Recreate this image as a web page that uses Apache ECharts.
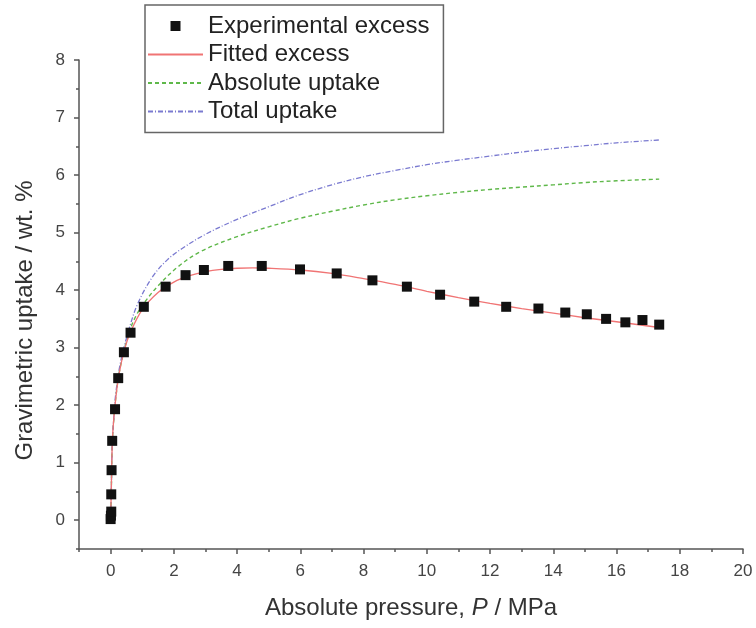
<!DOCTYPE html>
<html>
<head>
<meta charset="utf-8">
<script src="https://cdn.jsdelivr.net/npm/echarts@6/dist/echarts.min.js"></script>
<style>html,body{margin:0;padding:0;background:#fff}#c{width:756px;height:628px}</style>
</head>
<body>
<div id="c"></div>
<script>
// Experimental excess uptake
var expP = [0.00,0.01,0.02,0.02,0.03,0.05,0.14,0.24,0.42,0.63,1.05,1.74,2.37,2.95,3.72,4.78,5.99,7.15,8.28,9.37,10.42,11.50,12.51,13.53,14.38,15.06,15.67,16.28,16.82,17.35];
var expU = [0.02,0.08,0.15,0.45,0.87,1.38,1.93,2.47,2.92,3.26,3.71,4.06,4.26,4.35,4.42,4.42,4.36,4.29,4.17,4.06,3.92,3.80,3.71,3.68,3.61,3.58,3.50,3.44,3.48,3.40];
// Fitted excess
var fitP = [0,0.01,0.02,0.03,0.05,0.08,0.14,0.24,0.42,0.63,1.0,1.5,2.0,2.5,3.0,3.5,4.0,4.5,5.0,6.0,7.0,8.0,9.0,10.0,11.0,12.0,13.0,14.0,15.0,16.0,17.35];
var fitU = [0,0.25,0.5,0.8,1.3,1.62,2.0,2.45,2.93,3.27,3.66,3.96,4.14,4.25,4.32,4.36,4.38,4.385,4.38,4.35,4.29,4.2,4.1,3.98,3.87,3.77,3.68,3.6,3.52,3.45,3.35];
// Absolute uptake
var absP = [0,0.02,0.05,0.1,0.14,0.29,0.56,0.8,1.09,1.51,2.14,2.88,4,5,6,7,8,9,10,11,12,13,14,15,16,17.35];
var absU = [0,0.45,1.3,1.75,2.02,2.62,3.22,3.55,3.8,4.08,4.41,4.68,4.93,5.1,5.25,5.37,5.48,5.57,5.64,5.7,5.75,5.79,5.83,5.87,5.9,5.93];
// Total uptake
var totP = [0,0.02,0.05,0.1,0.14,0.29,0.56,0.87,1.35,1.8,2.25,3,4,5,6,7,8,9,10,11,12,13,14,15,16,17.35];
var totU = [0,0.45,1.3,1.78,2.09,2.68,3.28,3.78,4.25,4.53,4.72,4.97,5.23,5.45,5.66,5.83,5.97,6.08,6.18,6.26,6.33,6.4,6.46,6.51,6.56,6.61];
// Tick values
var xMajor = [0,2,4,6,8,10,12,14,16,18,20];
var xMinor = [-1,1,3,5,7,9,11,13,15,17,19];
var yMajor = [0,1,2,3,4,5,6,7,8];
var yMinor = [-0.5,0.5,1.5,2.5,3.5,4.5,5.5,6.5,7.5];
var names = ['Experimental excess','Fitted excess','Absolute uptake','Total uptake'];

function zip(a,b){return a.map(function(v,i){return [v,b[i]];});}

var FONT = 'Liberation Sans, Arial, sans-serif';
var AX = '#555';
var hideSym = {opacity:0, color:'transparent', borderWidth:0};
var chart = echarts.init(document.getElementById('c'), null, {renderer:'canvas'});
chart.setOption({
  animation:false,
  backgroundColor:'#fff',
  grid:{left:79,right:13,top:60,bottom:79,containLabel:false},
  legend:{
    orient:'vertical', left:145, top:5,
    padding:[9,14,9,2],
    borderColor:'#666', borderWidth:1.5,
    itemWidth:55, itemHeight:10, itemGap:4.5,
    textStyle:{fontFamily:FONT,fontSize:24,color:'#222',lineHeight:24},
    data:[
      {name:names[0], icon:'path://M0,0L10,0L10,10L0,10Z'},
      {name:names[1], itemStyle:hideSym},
      {name:names[2], itemStyle:hideSym},
      {name:names[3], itemStyle:hideSym}
    ]
  },
  xAxis:[{
    type:'value', min:-1, max:20, position:'bottom',
    name:'Absolute pressure, {i|P} / MPa', nameLocation:'middle', nameGap:47,
    nameTextStyle:{fontFamily:FONT,fontSize:24,color:'#333',
      rich:{i:{fontFamily:FONT,fontSize:24,fontStyle:'italic',color:'#333'}}},
    axisLine:{show:true,onZero:false,lineStyle:{color:AX,width:1.5}},
    axisTick:{show:true,inside:false,length:5,customValues:xMajor,lineStyle:{color:AX,width:1.5}},
    axisLabel:{show:true,customValues:xMajor,margin:14,fontFamily:FONT,fontSize:17,color:'#444'},
    splitLine:{show:false}
  },{
    type:'value', min:-1, max:20, position:'bottom', offset:0,
    axisLine:{show:false,onZero:false},
    axisTick:{show:true,inside:false,length:3,customValues:xMinor,lineStyle:{color:AX,width:1.5}},
    axisLabel:{show:false},
    splitLine:{show:false}
  }],
  yAxis:[{
    type:'value', min:-0.5, max:8, position:'left',
    name:'Gravimetric uptake / wt. %', nameLocation:'middle', nameGap:42,
    nameTextStyle:{fontFamily:FONT,fontSize:24,color:'#333',padding:[0,32,0,0]},
    axisLine:{show:true,onZero:false,lineStyle:{color:AX,width:1.5}},
    axisTick:{show:true,inside:false,length:5,customValues:yMajor,lineStyle:{color:AX,width:1.5}},
    axisLabel:{show:true,customValues:yMajor,margin:14,fontFamily:FONT,fontSize:17,color:'#444'},
    splitLine:{show:false}
  },{
    type:'value', min:-0.5, max:8, position:'left', offset:0,
    axisLine:{show:false,onZero:false},
    axisTick:{show:true,inside:false,length:3,customValues:yMinor,lineStyle:{color:AX,width:1.5}},
    axisLabel:{show:false},
    splitLine:{show:false}
  }],
  series:[
    {name:names[1],type:'line',data:zip(fitP,fitU),showSymbol:false,symbol:'none',
     smooth:0.35,color:'#f07474',lineStyle:{color:'#f07474',width:1.3},z:3},
    {name:names[2],type:'line',data:zip(absP,absU),showSymbol:false,symbol:'none',
     smooth:0.35,color:'#5fb84a',lineStyle:{color:'#5fb84a',width:1.4,type:[4,3]},z:2},
    {name:names[3],type:'line',data:zip(totP,totU),showSymbol:false,symbol:'none',
     smooth:0.35,color:'#7a7ad0',lineStyle:{color:'#7a7ad0',width:1.3,type:[5,2,1,2]},z:2},
    {name:names[0],type:'scatter',data:zip(expP,expU),symbol:'rect',symbolSize:10,
     itemStyle:{color:'#111',opacity:1},z:5}
  ]
});
</script>
</body>
</html>
